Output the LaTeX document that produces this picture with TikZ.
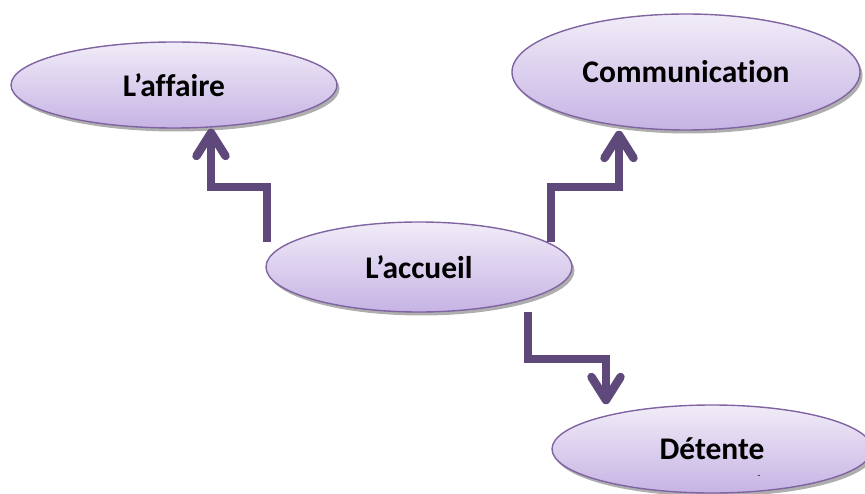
\documentclass[tikz,border=0pt]{standalone}
\usepackage{fontspec}
\setmainfont{Carlito}[Ligatures=NoCommon]
\usetikzlibrary{arrows.meta,shapes.geometric,shadows}
\definecolor{lineviolet}{HTML}{5F497A}
\definecolor{rimviolet}{HTML}{8064A2}
\definecolor{topviolet}{HTML}{F1ECF8}
\definecolor{botviolet}{HTML}{C6B3E4}

\begin{document}
\begin{tikzpicture}[
   x=1pt,y=-1pt,
   font=\fontsize{31.5}{33}\selectfont\bfseries,
   bubble/.style={ellipse,draw=rimviolet,line width=1.4pt,inner sep=0pt,
     top color=topviolet,bottom color=botviolet,
     drop shadow={shadow xshift=2.5pt,shadow yshift=-3.5pt,fill=black!45,opacity=.7}},
   link/.style={draw=lineviolet,line width=8.5pt,line join=miter,
     -{Straight Barb[round,length=23pt,width=29pt]}}]
 \useasboundingbox (0,0) rectangle (865,494);
 \node[bubble,minimum width=326pt,minimum height=86pt] (aff) at (174,85) {\raisebox{-5pt}{L’affaire}};
 \node[bubble,minimum width=348pt,minimum height=116pt] (com) at (686,72) {\raisebox{-2pt}{Communication}};
 \node[bubble,minimum width=306pt,minimum height=90pt] (acc) at (419,267) {L’accueil};
 \node[bubble,minimum width=320pt,minimum height=88pt] (det) at (712,449) {Détente};
 \node[font=\fontsize{9}{9}\selectfont] (tick) at (759,477) {-};
 % free ends near the centre bubble
 \coordinate (up1) at (267,242);
 \coordinate (up2) at (551,242);
 \coordinate (dn1) at (528,312);
 \draw[link] (up1) |- ++(-56,-55) -- ([xshift=37pt]aff.south);
 \draw[link] (up2) |- ++(68,-55) -- ([xshift=-67pt]com.south);
 \draw[link] (dn1) |- ++(78,47) -- ([xshift=-106pt]det.north);
\end{tikzpicture}
\end{document}
